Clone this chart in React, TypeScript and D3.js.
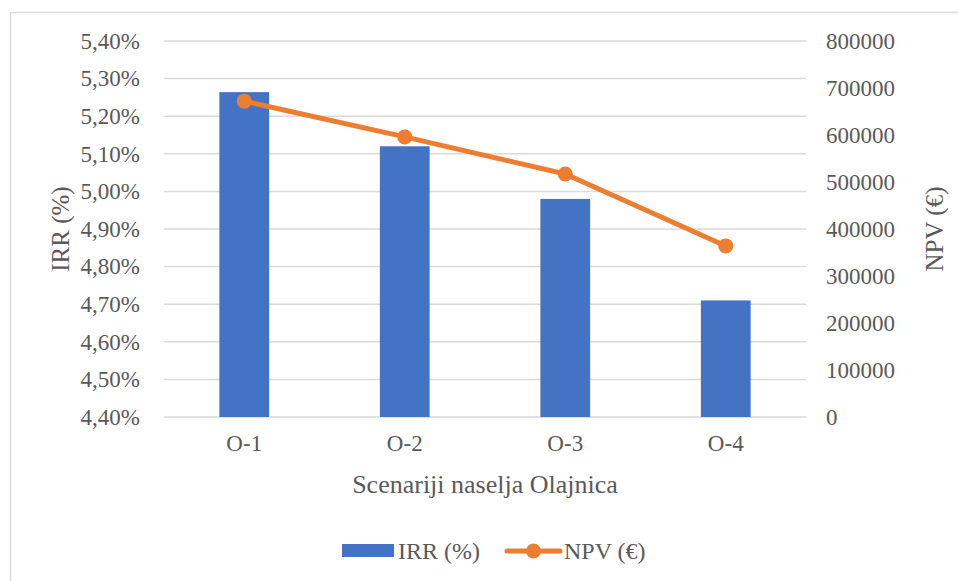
import * as d3 from "d3"
import { useEffect, useRef } from "react"

// scenario names and values
const categories = ["O-1", "O-2", "O-3", "O-4"]
const irrValues = [5.264, 5.12, 4.98, 4.71] // %
const npvValues = [672000, 596000, 517000, 364000] // €
const irrTicks = [4.4, 4.5, 4.6, 4.7, 4.8, 4.9, 5.0, 5.1, 5.2, 5.3, 5.4]
const npvTicks = [0, 100000, 200000, 300000, 400000, 500000, 600000, 700000, 800000]

const width = 958
const height = 581
const plotLeft = 164
const plotRight = 806
const plotTop = 41
const plotBottom = 417

const textColor = "#595959"
const gridColor = "#d9d9d9"
const barColor = "#4472c4"
const lineColor = "#ed7d31"
const font = "Liberation Serif"

export default function App() {
    const leftAxisRef = useRef<SVGGElement>(null)
    const rightAxisRef = useRef<SVGGElement>(null)
    const bottomAxisRef = useRef<SVGGElement>(null)

    const x = d3.scaleBand(categories, [plotLeft, plotRight]).paddingInner(0.69).paddingOuter(0.345)
    const yIrr = d3.scaleLinear([4.4, 5.4], [plotBottom, plotTop])
    const yNpv = d3.scaleLinear([0, 800000], [plotBottom, plotTop])

    const line = d3.line<number>()
        .x((_, i) => x(categories[i])! + x.bandwidth() / 2)
        .y(d => yNpv(d))

    useEffect(() => {
        const fmtPct = (d: number) => d.toFixed(2).replace(".", ",") + "%"
        const left = d3.select(leftAxisRef.current!)
        left.call(d3.axisLeft(yIrr).tickValues(irrTicks).tickFormat(d => fmtPct(+d)).tickSize(0).tickPadding(24))
        const right = d3.select(rightAxisRef.current!)
        right.call(d3.axisRight(yNpv).tickValues(npvTicks).tickFormat(d => String(d)).tickSize(0).tickPadding(20))
        const bottom = d3.select(bottomAxisRef.current!)
        bottom.call(d3.axisBottom(x).tickSize(0).tickPadding(18))
        for (const g of [left, right, bottom]) {
            g.attr("font-family", font).attr("font-size", 23)
            g.select(".domain").remove()
            g.selectAll("text").attr("fill", textColor)
        }
    }, [])

    const legendY = 551

    return (
        <svg width={width} height={height} style={{ position: "absolute", left: 0, top: 0, background: "#fff" }}>
            <rect x={10.5} y={12.5} width={width} height={height} fill="white" stroke={gridColor} strokeWidth={1.5} />

            {/* gridlines */}
            {irrTicks.map(t => (
                <line key={t} x1={plotLeft} x2={plotRight} y1={yIrr(t)} y2={yIrr(t)} stroke={gridColor} strokeWidth={1.5} />
            ))}

            {/* IRR bars */}
            {irrValues.map((v, i) => (
                <rect
                    key={i}
                    x={x(categories[i])}
                    y={yIrr(v)}
                    width={x.bandwidth()}
                    height={plotBottom - yIrr(v)}
                    fill={barColor}
                />
            ))}

            {/* NPV line */}
            <path d={line(npvValues)!} fill="none" stroke={lineColor} strokeWidth={5} strokeLinejoin="round" />
            {npvValues.map((v, i) => (
                <circle key={i} cx={x(categories[i])! + x.bandwidth() / 2} cy={yNpv(v)} r={7.5} fill={lineColor} />
            ))}

            <g ref={leftAxisRef} transform={`translate(${plotLeft}, 0)`} />
            <g ref={rightAxisRef} transform={`translate(${plotRight}, 0)`} />
            <g ref={bottomAxisRef} transform={`translate(0, ${plotBottom})`} />

            {/* axis titles */}
            <text x={485} y={493} textAnchor="middle" fill={textColor} fontFamily={font} fontSize={26}>
                Scenariji naselja Olajnica
            </text>
            <text transform={`translate(69, ${(plotTop + plotBottom) / 2}) rotate(-90)`} textAnchor="middle" fill={textColor} fontFamily={font} fontSize={25}>
                IRR (%)
            </text>
            <text transform={`translate(943, ${(plotTop + plotBottom) / 2}) rotate(-90)`} textAnchor="middle" fill={textColor} fontFamily={font} fontSize={25}>
                NPV (€)
            </text>

            {/* legend */}
            <rect x={342} y={legendY - 7} width={52} height={13} fill={barColor} />
            <text x={398} y={legendY + 8} fill={textColor} fontFamily={font} fontSize={24}>IRR (%)</text>
            <line x1={507} x2={560} y1={legendY} y2={legendY} stroke={lineColor} strokeWidth={5} strokeLinecap="round" />
            <circle cx={533.5} cy={legendY} r={7.5} fill={lineColor} />
            <text x={564} y={legendY + 8} fill={textColor} fontFamily={font} fontSize={24}>NPV (€)</text>
        </svg>
    )
}
